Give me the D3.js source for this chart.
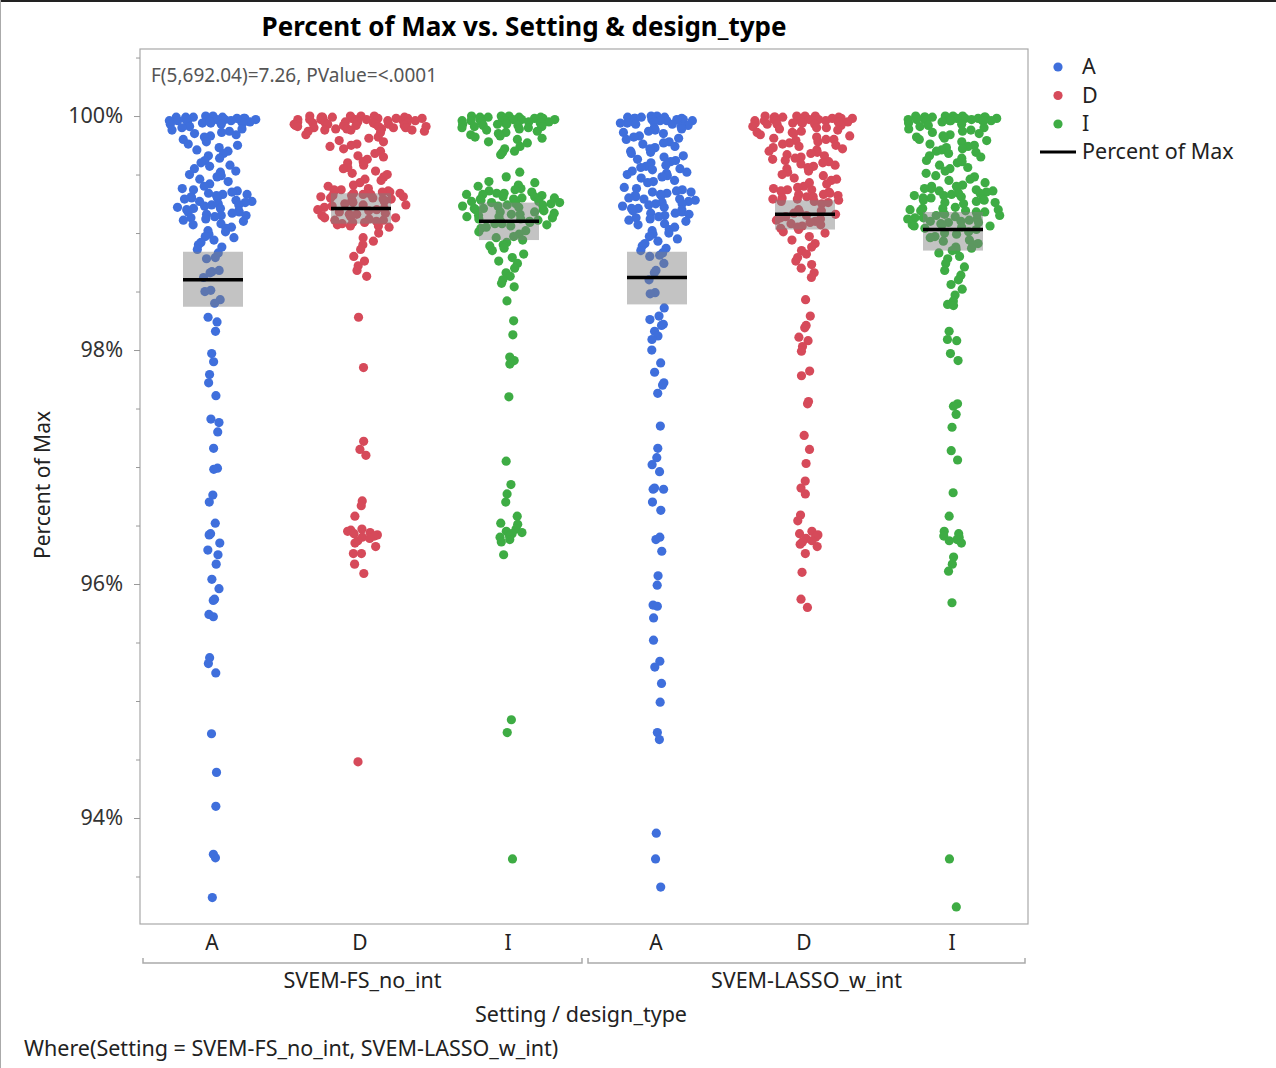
<!DOCTYPE html>
<html>
<head>
<meta charset="utf-8">
<script src="https://cdn.jsdelivr.net/npm/d3@7"></script>
<style>
  body { margin: 0; background: #fff; }
  text { font-family: "Noto Sans", "Open Sans", sans-serif; }
</style>
</head>
<body>
<svg id="chart"></svg>
<script>
// categories
var settings = ["SVEM-FS_no_int", "SVEM-LASSO_w_int"];
var designs = ["A", "D", "I"];
var yTicks = [94, 96, 98, 100];

// Percent of Max values (one array per Setting / design_type)
var fsA = [100.00, 100.00, 99.99, 99.99, 99.99, 99.98, 99.98, 99.98, 99.97, 99.97, 99.97, 99.97, 99.96, 99.96,
  99.96, 99.95, 99.95, 99.95, 99.94, 99.94, 99.94, 99.93, 99.93, 99.98, 99.99, 99.96, 99.95, 99.97,
  99.91, 99.90, 99.89, 99.88, 99.87, 99.86, 99.85, 99.84, 99.83, 99.82,
  99.80, 99.78, 99.76, 99.75, 99.73, 99.71, 99.70, 99.68, 99.66, 99.64, 99.62, 99.60, 99.58, 99.57,
  99.55, 99.53, 99.52, 99.50, 99.49, 99.48, 99.46, 99.44, 99.42, 99.40,
  99.38, 99.37, 99.36, 99.35, 99.34, 99.33, 99.33, 99.32, 99.31, 99.30, 99.30, 99.29, 99.28, 99.27,
  99.27, 99.26, 99.25, 99.24, 99.24, 99.23, 99.22, 99.21, 99.21, 99.20, 99.19, 99.18, 99.18, 99.17,
  99.16, 99.15, 99.15, 99.14, 99.13, 99.12, 99.11,
  99.10, 99.08, 99.07, 99.05, 99.04, 99.02, 99.01, 98.99, 98.97, 98.96, 98.94, 98.92, 98.90, 98.88, 98.86,
  98.83, 98.79, 98.78, 98.68, 98.67, 98.66, 98.62, 98.51, 98.50, 98.43, 98.40,
  98.28, 98.24, 98.16, 97.97, 97.90, 97.79, 97.72, 97.61, 97.41, 97.38, 97.30, 97.16, 96.99, 96.98,
  96.76, 96.70, 96.52, 96.43, 96.42, 96.35, 96.29, 96.25, 96.17, 96.04, 95.96, 95.87, 95.86, 95.74,
  95.72, 95.37, 95.32, 95.24, 94.72, 94.39, 94.10, 93.69, 93.66, 93.32];

var fsD = [100.00, 100.00, 100.00, 100.00, 99.99, 99.99, 99.99, 99.99, 99.98, 99.98, 99.98, 99.98, 99.98,
  99.97, 99.97, 99.97, 99.97, 99.97, 99.96, 99.96, 99.96, 99.96, 99.96, 99.95, 99.95, 99.95, 99.95,
  99.94, 99.94, 99.94, 99.94, 99.93, 99.93, 99.93, 99.93, 99.92, 99.92, 99.92, 99.92, 99.91, 99.91,
  99.91, 99.91, 99.90, 99.90, 99.90, 99.89, 99.89, 99.89, 99.88, 99.88, 99.88, 99.87, 99.87, 99.86,
  99.84, 99.82, 99.81, 99.79, 99.78, 99.76, 99.75, 99.74,
  99.72, 99.70, 99.68, 99.66, 99.65, 99.63, 99.61, 99.60, 99.58, 99.56, 99.55, 99.53, 99.51, 99.50,
  99.48, 99.46, 99.45, 99.43, 99.41, 99.40,
  99.38, 99.37, 99.37, 99.36, 99.36, 99.35, 99.35, 99.34, 99.34, 99.33, 99.33, 99.32, 99.32, 99.31,
  99.31, 99.30, 99.30, 99.29, 99.29, 99.28,
  99.27, 99.26, 99.25, 99.24, 99.24, 99.23, 99.22, 99.21, 99.20, 99.20, 99.19, 99.18, 99.17, 99.16,
  99.16, 99.15, 99.14, 99.13, 99.13, 99.12, 99.11, 99.11, 99.10, 99.09, 99.09, 99.08, 99.07, 99.06,
  99.06, 99.05,
  99.00, 98.96, 98.93, 98.90, 98.86, 98.80, 98.76, 98.72, 98.68, 98.63,
  98.28, 97.85, 97.22, 97.15, 97.10, 96.71, 96.67, 96.58, 96.47, 96.46, 96.45, 96.44, 96.43, 96.42,
  96.41, 96.40, 96.39, 96.37, 96.35, 96.32, 96.26, 96.26, 96.17, 96.09, 94.48];

var fsI = [100.00, 100.00, 100.00, 99.99, 99.99, 99.99, 99.99, 99.98, 99.98, 99.98, 99.98, 99.97, 99.97,
  99.97, 99.97, 99.96, 99.96, 99.96, 99.95, 99.95, 99.95, 99.94, 99.94, 99.94, 99.93, 99.93, 99.93,
  99.92, 99.92, 99.91, 99.91, 99.90, 99.90, 99.89, 99.88,
  99.87, 99.86, 99.85, 99.84, 99.83, 99.82, 99.81, 99.80, 99.78, 99.77,
  99.74, 99.72, 99.70, 99.69, 99.67, 99.52, 99.48, 99.44,
  99.43, 99.41, 99.40, 99.38, 99.37, 99.36,
  99.35, 99.34, 99.34, 99.33, 99.33, 99.32, 99.31, 99.31, 99.30, 99.30, 99.29, 99.29, 99.28, 99.28,
  99.27, 99.27, 99.26, 99.26, 99.25, 99.25, 99.24, 99.24, 99.23, 99.23, 99.22,
  99.21, 99.21, 99.20, 99.20, 99.19, 99.18, 99.18, 99.17, 99.16, 99.16, 99.15, 99.14, 99.14, 99.13,
  99.12, 99.12, 99.11, 99.10, 99.10, 99.09, 99.08, 99.08, 99.07, 99.06, 99.05,
  99.04, 99.02, 99.01, 98.99, 98.97, 98.96, 98.94, 98.92, 98.90, 98.89, 98.87, 98.85,
  98.82, 98.79, 98.76, 98.74, 98.70, 98.66, 98.63, 98.60, 98.57, 98.54,
  98.42, 98.25, 98.13, 97.94, 97.91, 97.88, 97.60, 97.05, 96.85, 96.77, 96.70, 96.58, 96.52, 96.51,
  96.47, 96.45, 96.44, 96.43, 96.41, 96.40, 96.38, 96.36, 96.25, 94.84, 94.73, 93.65];

var lassoA = [100.00, 100.00, 99.99, 99.99, 99.99, 99.98, 99.98, 99.98, 99.97, 99.97, 99.97, 99.96, 99.96,
  99.96, 99.95, 99.95, 99.94, 99.94, 99.93, 99.93, 99.92, 99.91,
  99.90, 99.89, 99.88, 99.87, 99.86, 99.85, 99.83, 99.82, 99.81, 99.80, 99.78, 99.77, 99.76, 99.74,
  99.73, 99.72, 99.70, 99.69, 99.68, 99.66, 99.65, 99.63, 99.62, 99.61, 99.60, 99.58, 99.57, 99.56,
  99.55, 99.54, 99.53, 99.52, 99.51, 99.50, 99.49, 99.48, 99.47, 99.45, 99.44, 99.43,
  99.39, 99.38, 99.37, 99.36, 99.35, 99.35, 99.34, 99.33, 99.32, 99.32, 99.31, 99.30, 99.29, 99.29,
  99.28, 99.27, 99.26, 99.25, 99.25, 99.24, 99.23, 99.22, 99.21, 99.21, 99.20, 99.19, 99.18, 99.17,
  99.17, 99.16, 99.15, 99.14, 99.13, 99.12, 99.11,
  99.10, 99.08, 99.07, 99.05, 99.03, 99.02, 99.00, 98.99, 98.97, 98.95, 98.93, 98.91, 98.89, 98.87, 98.85,
  98.83, 98.81, 98.80, 98.74, 98.68, 98.66, 98.60, 98.49, 98.48,
  98.36, 98.29, 98.26, 98.22, 98.21, 98.16, 98.12, 98.09, 98.00, 97.89, 97.81, 97.72, 97.70, 97.63,
  97.35, 97.16, 97.08, 97.02, 96.96, 96.82, 96.81, 96.81, 96.70, 96.63, 96.40, 96.38, 96.28, 96.07,
  95.99, 95.82, 95.81, 95.71, 95.52, 95.34, 95.29, 95.15, 94.99, 94.73, 94.67, 93.87, 93.65, 93.41];

var lassoD = [100.00, 100.00, 100.00, 100.00, 99.99, 99.99, 99.99, 99.99, 99.98, 99.98, 99.98, 99.98,
  99.97, 99.97, 99.97, 99.97, 99.96, 99.96, 99.96, 99.96, 99.95, 99.95, 99.95, 99.95, 99.94, 99.94,
  99.94, 99.93, 99.93, 99.93,
  99.92, 99.91, 99.90, 99.90, 99.89, 99.88, 99.87, 99.86, 99.86, 99.85, 99.84, 99.83, 99.82, 99.81,
  99.80, 99.80, 99.79, 99.78, 99.77, 99.76, 99.75, 99.74, 99.73, 99.72, 99.71, 99.70, 99.69, 99.68,
  99.67, 99.66, 99.65, 99.64, 99.63, 99.62, 99.61, 99.60, 99.59, 99.58, 99.57, 99.56,
  99.55, 99.53, 99.52, 99.50, 99.49, 99.47, 99.46, 99.45, 99.43, 99.42, 99.40, 99.39,
  99.38, 99.37, 99.37, 99.36, 99.35, 99.35, 99.34, 99.33, 99.33, 99.32, 99.31, 99.31, 99.30, 99.29,
  99.29, 99.28, 99.27, 99.27, 99.26, 99.25,
  99.20, 99.19, 99.18, 99.17, 99.16, 99.15, 99.14, 99.13, 99.12, 99.11, 99.10, 99.09, 99.08, 99.07,
  99.06, 99.05, 99.04, 99.03, 99.01, 99.00,
  98.97, 98.94, 98.91, 98.88, 98.85, 98.82, 98.79, 98.76, 98.73, 98.70, 98.66, 98.62,
  98.43, 98.29, 98.21, 98.19, 98.11, 98.08, 98.03, 97.99, 97.82, 97.78, 97.56, 97.54, 97.27, 97.15,
  97.03, 96.88, 96.82, 96.77, 96.59, 96.54, 96.45, 96.43, 96.42, 96.40, 96.39, 96.37, 96.36, 96.34,
  96.32, 96.26, 96.10, 95.87, 95.80];

var lassoI = [100.00, 100.00, 100.00, 100.00, 99.99, 99.99, 99.99, 99.99, 99.99, 99.98, 99.98, 99.98,
  99.98, 99.98, 99.97, 99.97, 99.97, 99.97, 99.97, 99.97, 99.96, 99.96, 99.96, 99.96, 99.96,
  99.95, 99.94, 99.93, 99.92, 99.91, 99.90, 99.89, 99.88, 99.87, 99.86, 99.85, 99.84, 99.83, 99.82,
  99.81, 99.80, 99.79, 99.78, 99.76, 99.75, 99.74, 99.73, 99.72, 99.71, 99.70, 99.69, 99.68, 99.66,
  99.65, 99.64, 99.62, 99.61, 99.60, 99.58, 99.56,
  99.55, 99.53, 99.51, 99.49, 99.48, 99.46, 99.45, 99.43,
  99.41, 99.40, 99.40, 99.39, 99.38, 99.38, 99.37, 99.36, 99.36, 99.35, 99.34, 99.34, 99.33, 99.32,
  99.32, 99.31, 99.30, 99.30, 99.29, 99.28, 99.28, 99.27, 99.26, 99.26, 99.25,
  99.22, 99.21, 99.21, 99.20, 99.20, 99.19, 99.19, 99.18, 99.18, 99.17, 99.16, 99.16, 99.15, 99.15,
  99.14, 99.13, 99.13, 99.12, 99.12, 99.11, 99.10, 99.10, 99.09, 99.09, 99.08, 99.07, 99.07, 99.06,
  99.06, 99.05,
  99.04, 99.03, 99.01, 99.00, 98.99, 98.97, 98.96, 98.94, 98.93, 98.91, 98.90, 98.88, 98.87, 98.86, 98.85,
  98.83, 98.80, 98.78, 98.74, 98.71, 98.68, 98.64, 98.60, 98.56, 98.52, 98.47, 98.42,
  98.39, 98.38, 98.16, 98.09, 98.08, 97.97, 97.91, 97.54, 97.52, 97.45, 97.34, 97.14, 97.06, 96.78,
  96.58, 96.45, 96.43, 96.41, 96.40, 96.38, 96.37, 96.35, 96.23, 96.17, 96.11, 95.84, 93.65, 93.24];

// group means and the grey confidence boxes
var means = [98.60, 99.21, 99.10, 98.62, 99.16, 99.03];
var ciLow = [98.37, 99.08, 98.94, 98.39, 99.03, 98.85];
var ciHigh = [98.84, 99.34, 99.26, 98.84, 99.28, 99.18];

var colors = { A: "#3f6fdc", D: "#d64a5a", I: "#3eac44" };

var width = 1276;
var height = 1068;
var plotLeft = 140, plotRight = 1028, plotTop = 49, plotBottom = 924;

var svg = d3.select("#chart").attr("width", width).attr("height", height);

// window frame lines
svg.append("rect").attr("x", 0).attr("y", 0).attr("width", width).attr("height", 2).attr("fill", "#222");
svg.append("rect").attr("x", 0).attr("y", 0).attr("width", 1).attr("height", height).attr("fill", "#aaa");

var groups = [];
[fsA, fsD, fsI, lassoA, lassoD, lassoI].forEach((vals, i) => {
  groups.push({
    key: settings[Math.floor(i / 3)] + "|" + designs[i % 3],
    setting: settings[Math.floor(i / 3)],
    design: designs[i % 3],
    values: vals,
    mean: means[i],
    lo: ciLow[i],
    hi: ciHigh[i]
  });
});

var xScale = d3.scaleBand().domain(groups.map((g) => g.key)).range([plotLeft, plotRight]);
var yScale = d3.scaleLinear().domain([93.094, 100.573]).range([plotBottom, plotTop]);

// van der Corput sequence, used to spread points sideways
var vdc = (n, base) => {
  var q = 0, bk = 1 / base;
  while (n > 0) {
    q += (n % base) * bk;
    n = Math.floor(n / base);
    bk /= base;
  }
  return q;
};

// jitter: spread is proportional to the local density of the points
var jitter = (vals) => {
  var ys = vals.map((v) => yScale(v));
  var h = 12;
  var order = d3.range(ys.length).sort((a, b) => ys[a] - ys[b]);
  var rank = [];
  order.forEach((idx, r) => (rank[idx] = r));
  return ys.map((yi, i) => {
    var dens = d3.sum(ys, (yj) => Math.exp(-0.5 * Math.pow((yi - yj) / h, 2))) / (h * Math.sqrt(2 * Math.PI));
    var hw = Math.min(72, 2.5 + 38 * dens);
    var u = ((vdc(rank[i] + 1, 2) + rank[i] * 0.1618) % 1) * 2 - 1;
    return hw * u;
  });
};

var points = [];
groups.forEach((g) => {
  var off = jitter(g.values);
  g.values.forEach((v, i) => {
    points.push({ group: g, value: v, dx: off[i] });
  });
});

var center = (g) => xScale(g.key) + xScale.bandwidth() / 2 - 1;

var plot = svg.append("g");

plot
  .selectAll("circle.dot")
  .data(points)
  .enter()
  .append("circle")
  .attr("class", "dot")
  .attr("r", 4.6)
  .attr("cx", (d) => center(d.group) + d.dx)
  .attr("cy", (d) => yScale(d.value))
  .attr("fill", (d) => colors[d.group.design]);

// mean CI boxes
var boxW = 60;
plot
  .selectAll("rect.ci")
  .data(groups)
  .enter()
  .append("rect")
  .attr("class", "ci")
  .attr("x", (g) => center(g) - boxW / 2)
  .attr("width", boxW)
  .attr("y", (g) => yScale(g.hi))
  .attr("height", (g) => yScale(g.lo) - yScale(g.hi))
  .attr("fill", "#808080")
  .attr("fill-opacity", 0.47);

plot
  .selectAll("line.mean")
  .data(groups)
  .enter()
  .append("line")
  .attr("class", "mean")
  .attr("x1", (g) => center(g) - boxW / 2)
  .attr("x2", (g) => center(g) + boxW / 2)
  .attr("y1", (g) => yScale(g.mean))
  .attr("y2", (g) => yScale(g.mean))
  .attr("stroke", "#000")
  .attr("stroke-width", 3.5);

// frame
svg.append("rect")
  .attr("x", plotLeft).attr("y", plotTop)
  .attr("width", plotRight - plotLeft).attr("height", plotBottom - plotTop)
  .attr("fill", "none").attr("stroke", "#a8a8a8").attr("stroke-width", 1.2);

// y axis
var yAxis = d3.axisLeft(yScale).tickValues(yTicks).tickFormat((d) => d + "%").tickSize(6).tickPadding(11);
var yAxisG = svg.append("g").attr("transform", "translate(" + plotLeft + ",0)").call(yAxis);
yAxisG.select(".domain").remove();
yAxisG.selectAll("line").attr("stroke", "#999");
yAxisG.selectAll("text").attr("font-size", 21.5).attr("fill", "#333").style("font-family", "'Noto Sans', sans-serif");

var minor = d3.range(93.5, 100.6, 0.5).filter((v) => yTicks.indexOf(v) < 0);
var yMinor = svg.append("g").attr("transform", "translate(" + plotLeft + ",0)")
  .call(d3.axisLeft(yScale).tickValues(minor).tickSize(4).tickFormat(""));
yMinor.select(".domain").remove();
yMinor.selectAll("line").attr("stroke", "#999");

svg.append("text")
  .attr("transform", "translate(50,485) rotate(-90)")
  .attr("text-anchor", "middle")
  .attr("font-size", 21)
  .attr("fill", "#222")
  .text("Percent of Max");

// x labels
svg.selectAll("text.xlab")
  .data(groups)
  .enter()
  .append("text")
  .attr("class", "xlab")
  .attr("x", (g) => center(g) - 1)
  .attr("y", 950)
  .attr("text-anchor", "middle")
  .attr("font-size", 21)
  .attr("fill", "#222")
  .text((g) => g.design);

// setting brackets
settings.forEach((s, i) => {
  var x0 = i == 0 ? plotLeft + 3 : xScale(s + "|A") + 4;
  var x1 = i == 0 ? xScale(s + "|I") + xScale.bandwidth() - 2 : plotRight - 3;
  svg.append("path")
    .attr("d", "M" + x0 + ",958V963H" + x1 + "V958")
    .attr("fill", "none")
    .attr("stroke", "#aaa")
    .attr("stroke-width", 1.5);
  svg.append("text")
    .attr("x", (x0 + x1) / 2)
    .attr("y", 988)
    .attr("text-anchor", "middle")
    .attr("font-size", 21.5)
    .attr("fill", "#222")
    .text(s);
});

svg.append("text")
  .attr("x", 581).attr("y", 1022)
  .attr("text-anchor", "middle")
  .attr("font-size", 21.5).attr("fill", "#222")
  .text("Setting / design_type");

svg.append("text")
  .attr("x", 24).attr("y", 1056)
  .attr("font-size", 21.5).attr("fill", "#222")
  .text("Where(Setting = SVEM-FS_no_int, SVEM-LASSO_w_int)");

// title + test annotation
svg.append("text")
  .attr("x", 524).attr("y", 36)
  .attr("text-anchor", "middle")
  .attr("font-size", 26).attr("font-weight", "bold").attr("fill", "#000")
  .text("Percent of Max vs. Setting & design_type");

svg.append("text")
  .attr("x", 151).attr("y", 82)
  .attr("font-size", 19).attr("fill", "#555")
  .text("F(5,692.04)=7.26, PValue=<.0001");

// legend
var legend = svg.append("g");
designs.forEach((d, i) => {
  legend.append("circle").attr("cx", 1058).attr("cy", 67 + i * 28.5).attr("r", 4.6).attr("fill", colors[d]);
  legend.append("text").attr("x", 1082).attr("y", 74 + i * 28.5)
    .attr("font-size", 21.5).attr("fill", "#222").text(d);
});
legend.append("line").attr("x1", 1040).attr("x2", 1076).attr("y1", 152).attr("y2", 152)
  .attr("stroke", "#000").attr("stroke-width", 3);
legend.append("text").attr("x", 1082).attr("y", 159)
  .attr("font-size", 21.5).attr("fill", "#222").text("Percent of Max");
</script>
</body>
</html>
